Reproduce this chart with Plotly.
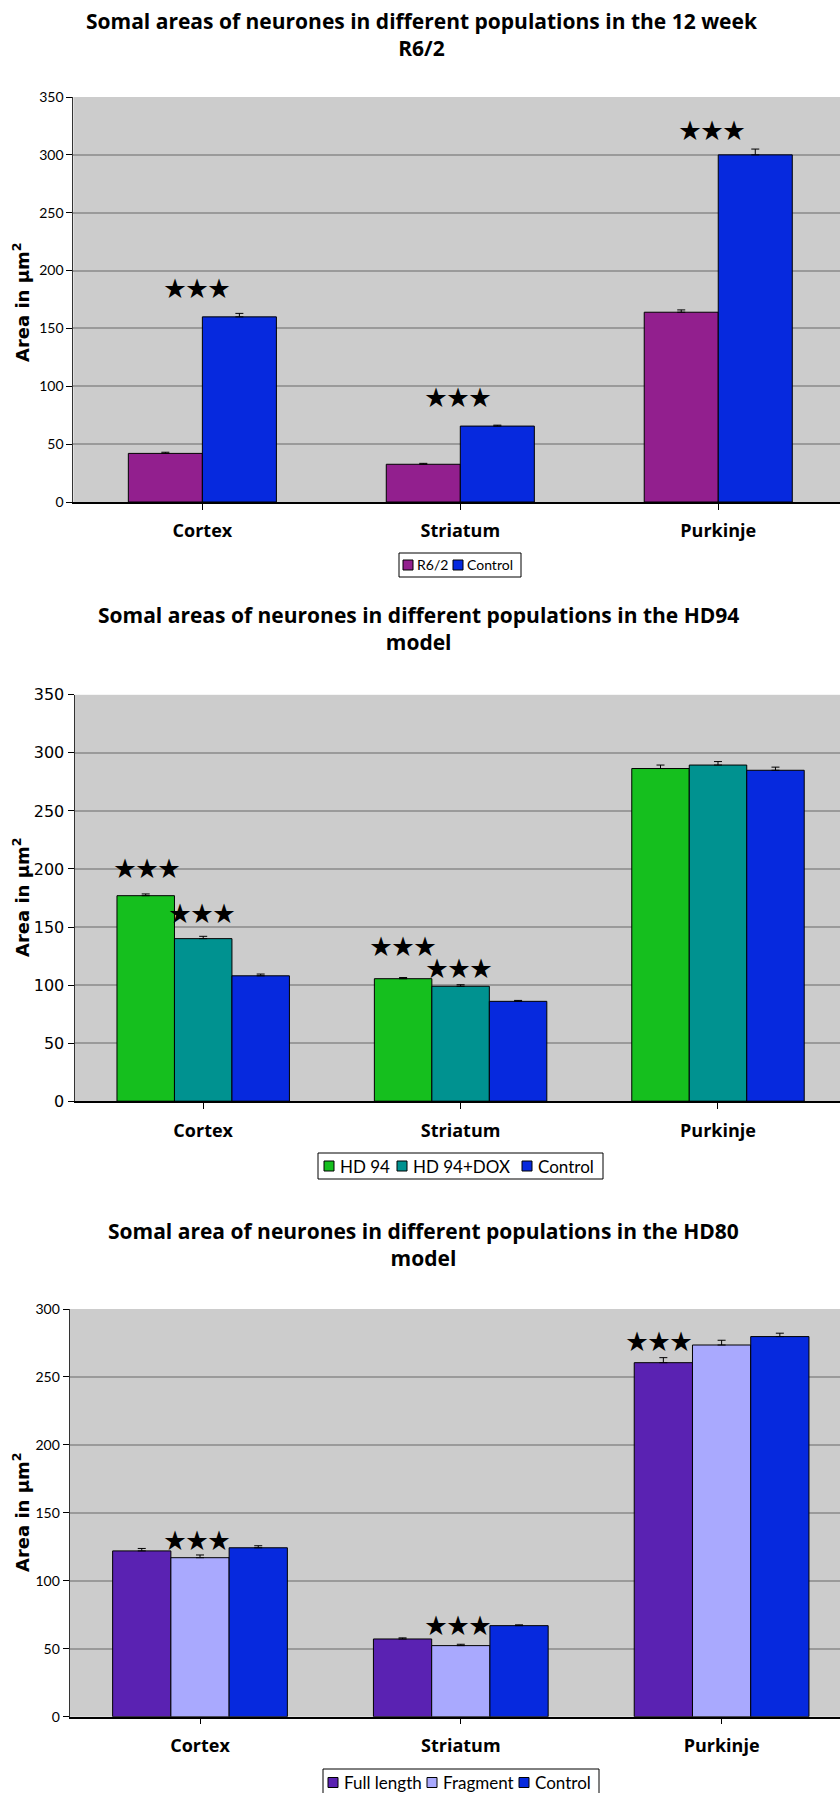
import plotly.graph_objects as go

# ---- data ----
regions = ["Cortex", "Striatum", "Purkinje"]

# Chart 1: 12 week R6/2
r62_mean = [42, 32.6, 164]
r62_err = [1, 0.8, 2]
r62_ctrl_mean = [160, 65.6, 300]
r62_ctrl_err = [3, 0.8, 5]

# Chart 2: HD94 model
hd94_mean = [177, 105.5, 286.5]
hd94_err = [1.5, 1, 3]
hd94dox_mean = [140, 99, 289.5]
hd94dox_err = [2, 1.3, 3]
hd94_ctrl_mean = [108, 86, 285]
hd94_ctrl_err = [1.5, 0.8, 2.7]

# Chart 3: HD80 model
full_mean = [122, 57.2, 260.5]
full_err = [1.8, 0.8, 3.7]
frag_mean = [117, 52.3, 273.5]
frag_err = [2, 1, 3.5]
hd80_ctrl_mean = [124.3, 67, 279.7]
hd80_ctrl_err = [1.5, 0.6, 2.5]

titles = [
    "Somal areas of neurones in different populations in the 12 week<br>R6/2",
    "Somal areas of neurones in different populations in the HD94<br>model",
    "Somal area of neurones in different populations in the HD80<br>model",
]

# significance markers: (chart, x position in category units, y value)
stars = [
    (1, -0.021, 184), (1, 0.991, 90), (1, 1.976, 321),
    (2, -0.218, 200), (2, -0.005, 161), (2, 0.775, 133), (2, 0.992, 114),
    (3, -0.011, 129), (3, 0.989, 66.4), (3, 1.76, 276),
]

H = 1793.0
W = 840.0


def px(x):
    return x / W


def py(y):
    return 1 - y / H


BG = "#CCCCCC"
GRID = "#9A9A9A"
C_PURPLE = "#921F8E"
C_BLUE = "#0629DE"
C_GREEN = "#15BF1E"
C_TEAL = "#009290"
C_VIOLET = "#5A22B2"
C_LAV = "#A9A9FE"

series = {
    1: [("R6/2", r62_mean, r62_err, C_PURPLE),
        ("Control", r62_ctrl_mean, r62_ctrl_err, C_BLUE)],
    2: [("HD 94", hd94_mean, hd94_err, C_GREEN),
        ("HD 94+DOX", hd94dox_mean, hd94dox_err, C_TEAL),
        ("Control", hd94_ctrl_mean, hd94_ctrl_err, C_BLUE)],
    3: [("Full length", full_mean, full_err, C_VIOLET),
        ("Fragment", frag_mean, frag_err, C_LAV),
        ("Control", hd80_ctrl_mean, hd80_ctrl_err, C_BLUE)],
}

# fraction of a category occupied by the cluster of bars
cluster = {1: 0.574, 2: 0.67, 3: 0.67}

fig = go.Figure()
for n, items in series.items():
    k = len(items)
    bw = cluster[n] / k
    for i, (name, y, err, color) in enumerate(items):
        fig.add_trace(go.Bar(
            x=list(range(len(regions))), y=y, name=name,
            width=bw, offset=-cluster[n] / 2 + i * bw,
            marker=dict(color=color, line=dict(color="black", width=1)),
            error_y=dict(type="data", symmetric=False, array=err,
                         arrayminus=[0] * len(err), color="black",
                         thickness=1, width=4),
            xaxis="x" if n == 1 else f"x{n}",
            yaxis="y" if n == 1 else f"y{n}",
            showlegend=False,
        ))

# panel geometry in pixels
panels = {
    1: dict(left=73.4, top=97, bottom=502, ymax=350, xr=2.472, ytitle=303,
            tickfont=dict(family="Lato", size=14, color="black")),
    2: dict(left=74.5, top=694.8, bottom=1101.2, ymax=350, xr=2.474, ytitle=898,
            tickfont=dict(family="DejaVu Sans", size=16, color="black")),
    3: dict(left=69.6, top=1309, bottom=1716.7, ymax=300, xr=2.454, ytitle=1513,
            tickfont=dict(family="Lato", size=14, color="black")),
}

annotations = []
shapes = []
layout = dict(
    width=840, height=1793,
    margin=dict(l=0, r=0, t=0, b=0),
    paper_bgcolor="white", plot_bgcolor=BG,
    barmode="group", showlegend=False,
)

for n, p in panels.items():
    sx = "" if n == 1 else str(n)
    layout[f"xaxis{sx}"] = dict(
        domain=[px(p["left"]), 1], range=[-0.5, p["xr"]],
        tickmode="array", tickvals=list(range(3)), ticktext=regions,
        tickson="boundaries", ticks="outside", ticklen=6, tickcolor="black",
        showline=True, linecolor="black", linewidth=1.5,
        showgrid=False, zeroline=False, ticklabelstandoff=6,
        tickfont=dict(family="Open Sans", size=18, color="black", weight="bold"),
        anchor=f"y{sx}", fixedrange=True, automargin=False,
    )
    layout[f"yaxis{sx}"] = dict(
        domain=[py(p["bottom"]), py(p["top"])], range=[0, p["ymax"]],
        dtick=50, ticks="outside", ticklen=6, tickcolor="black",
        showline=True, linecolor="#333333", linewidth=1,
        showgrid=True, gridcolor=GRID, gridwidth=1.5, zeroline=False,
        tickfont=p["tickfont"], anchor=f"x{sx}", fixedrange=True,
        automargin=False,
    )
    annotations.append(dict(
        text="Area in µm<sup>2</sup>", textangle=-90,
        xref="paper", yref="paper", x=px(21), y=py(p["ytitle"]),
        showarrow=False, xanchor="center", yanchor="middle",
        font=dict(family="DejaVu Sans", size=18, color="black", weight="bold"),
    ))

title_pos = [(422, 34), (418, 628), (423, 1244)]
for (cx, cy), t in zip(title_pos, titles):
    annotations.append(dict(
        text=t, xref="paper", yref="paper", x=px(cx), y=py(cy),
        showarrow=False, xanchor="center", yanchor="middle",
        font=dict(family="Open Sans", size=21, color="black", weight="bold"),
    ))

for n, xv, yv in stars:
    sx = "" if n == 1 else str(n)
    annotations.append(dict(
        text="★★★", x=xv, y=yv, xref=f"x{sx}", yref=f"y{sx}",
        showarrow=False, xanchor="center", yanchor="middle", yshift=3,
        font=dict(family="Noto Sans CJK JP", size=22, color="black"),
    ))

# boxed legends: box (x0, x1, y0, y1), text centre y, square size,
# each entry's square left edge and text left edge
legend_geom = {
    1: dict(box=(399, 521, 553, 577), cy=565, sq=10, font=14,
            xs=[403, 453], xt=[415, 465]),
    2: dict(box=(318, 603, 1153, 1179), cy=1166, sq=10, font=17,
            xs=[324, 397, 522], xt=[338, 411, 536]),
    3: dict(box=(323, 599, 1769, 1803), cy=1782.5, sq=10, font=17,
            xs=[328, 427, 519], xt=[342, 441, 533]),
}
for n, g in legend_geom.items():
    x0, x1, y0, y1 = g["box"]
    shapes.append(dict(type="rect", xref="paper", yref="paper",
                       x0=px(x0), x1=px(x1), y0=py(y1), y1=py(y0),
                       line=dict(color="black", width=1), fillcolor="white",
                       layer="above"))
    for (name, _, _, color), sx0, tx0 in zip(series[n], g["xs"], g["xt"]):
        s = g["sq"]
        shapes.append(dict(type="rect", xref="paper", yref="paper",
                           x0=px(sx0), x1=px(sx0 + s),
                           y0=py(g["cy"] + s / 2), y1=py(g["cy"] - s / 2),
                           line=dict(color="black", width=1), fillcolor=color,
                           layer="above"))
        annotations.append(dict(
            text=name, xref="paper", yref="paper", x=px(tx0),
            y=py(g["cy"]), showarrow=False, xanchor="left", yanchor="middle",
            font=dict(family="Lato", size=g["font"], color="black"),
        ))

layout["annotations"] = annotations
layout["shapes"] = shapes
fig.update_layout(**layout)
fig.write_html("out.html",
               post_script="document.body.style.margin='0';"
                           "document.body.style.overflow='hidden';")
